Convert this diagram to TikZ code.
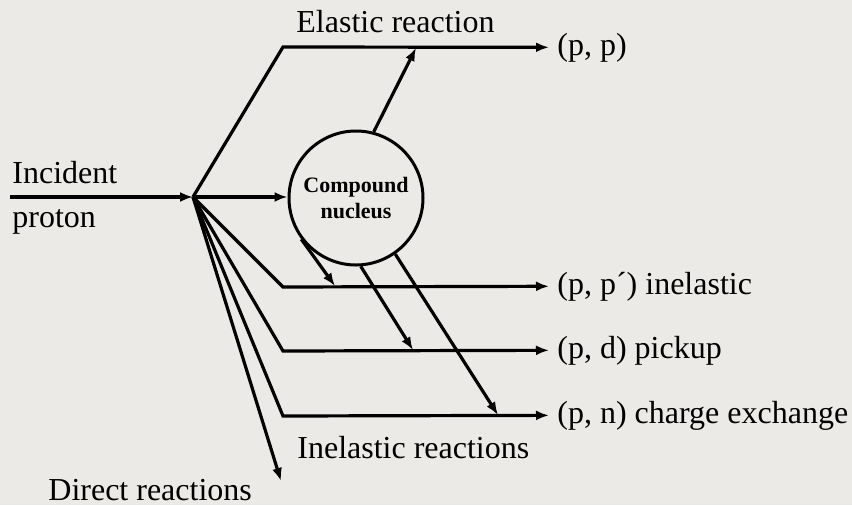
\documentclass[tikz,border=0pt]{standalone}
\usepackage{fontspec}
\setmainfont{Liberation Serif}
\usetikzlibrary{arrows.meta}
\definecolor{slidebg}{rgb}{0.925,0.918,0.902}
\tikzset{
  flow/.style={line width=1.6pt},
  arr/.style={flow,-{Latex[length=6.5pt,width=5pt]}},
  lbl/.style={font=\fontsize{16}{19}\selectfont,inner sep=0pt},
}

\begin{document}
\begin{tikzpicture}[x=0.5pt,y=-0.5pt]
\fill[slidebg] (0,0) rectangle (852,505);
\useasboundingbox (0,0) rectangle (852,505);
\coordinate (src) at (10,197);
\coordinate (hub) at (193,197);
\coordinate (ce) at (283,47);
\coordinate (c1) at (283,287);
\coordinate (c2) at (283,351);
\coordinate (c3) at (283,416);
\coordinate (el) at (416,48);
\coordinate (in1) at (335,286);
\coordinate (in2) at (413,350);
\coordinate (in3) at (498,415);
\coordinate (dr) at (281,481);
\node[draw,circle,line width=1.5pt,minimum size=67pt,inner sep=0pt,align=center,font=\fontsize{11}{13}\selectfont\bfseries] (cn) at (356,198) {Compound\\nucleus};
\node[lbl,anchor=base west] (pp) at (557,55) {(p, p)};
\node[lbl,anchor=base west] (ppi) at (557,294) {(p, p´) inelastic};
\node[lbl,anchor=base west] (pd) at (557,358) {(p, d) pickup};
\node[lbl,anchor=base west] (pn) at (557,423) {(p, n) charge exchange};
\node[lbl,anchor=base west] (elastic) at (296,32) {Elastic reaction};
\node[lbl,anchor=base west] (incident) at (12,183) {Incident};
\node[lbl,anchor=base west] (proton) at (12,227) {proton};
\node[lbl,anchor=base west] (inelastic) at (297,458) {Inelastic reactions};
\node[lbl,anchor=base west] (direct) at (48,500) {Direct reactions};
\draw[arr] (src) -- (hub);
\draw[arr] (hub) -- (hub -| cn.west);
\draw[arr] (hub) -- (ce) -- (pp.west -| 549,0);
\draw[arr] (hub) -- (c1) -- (ppi.west -| 549,0);
\draw[arr] (hub) -- (c2) -- (pd.west -| 549,0);
\draw[arr] (hub) -- (c3) -- (pn.west -| 549,0);
\draw[arr] (hub) -- (dr);
\draw[arr] (cn.75) -- (el);
\draw[arr] (cn.217) -- (in1);
\draw[arr] (cn.274) -- (in2);
\draw[arr] (cn.305) -- (in3);
\end{tikzpicture}
\end{document}
